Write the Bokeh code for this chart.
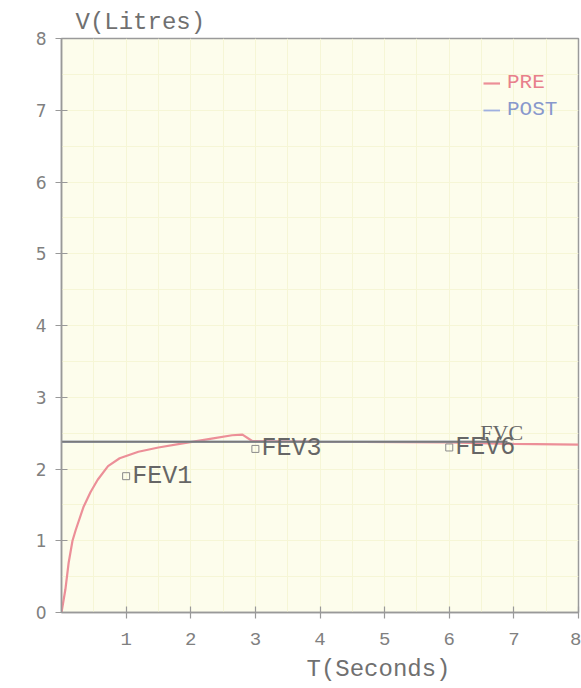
from bokeh.plotting import figure
from bokeh.models import (Legend, LegendItem, FixedTicker, ColumnDataSource,
                          Range1d, Title)
from bokeh.core.properties import value
from bokeh.embed import file_html
from bokeh.resources import INLINE
import numpy as np

# ---- data ----
pre_t = [0, 0.06, 0.11, 0.17, 0.22, 0.34, 0.45, 0.56, 0.72, 0.9, 1.19, 1.5, 1.9, 2.3, 2.64, 2.8,
         2.95, 4.0, 6.0, 7.0, 8.0]
pre_v = [0, 0.32, 0.69, 1.0, 1.15, 1.47, 1.68, 1.85, 2.04, 2.15, 2.24, 2.3, 2.36, 2.42, 2.47, 2.48,
         2.39, 2.38, 2.37, 2.35, 2.34]
post_t = [0, 6.9]
post_v = [2.38, 2.38]
ref_t = [0, 6.9]
ref_v = [2.38, 2.38]
fev_names = ["FEV1", "FEV3", "FEV6"]
fev_t = [1.0, 3.0, 6.0]
fev_v = [1.9, 2.28, 2.3]
fvc_name = ["FVC"]
fvc_t = [6.48]
fvc_v = [2.33]
x_ticks = [1, 2, 3, 4, 5, 6, 7, 8]
y_ticks = [0, 1, 2, 3, 4, 5, 6, 7, 8]

MONO = "Liberation Mono"
GRAY = "#7a7a7a"

p = figure(width=581, height=688, x_range=Range1d(0, 8), y_range=Range1d(0, 8),
           output_backend="svg", toolbar_location=None,
           min_border_left=61, min_border_right=3, min_border_top=38, min_border_bottom=75)

p.background_fill_color = "#fdfdec"
p.border_fill_color = "white"
p.outline_line_color = "#9a9a9a"
p.outline_line_width = 1.5

p.xgrid.ticker = FixedTicker(ticks=list(np.arange(0, 8.01, 0.5)))
p.ygrid.ticker = FixedTicker(ticks=list(np.arange(0, 8.01, 0.5)))
p.xgrid.grid_line_color = "#f6f6d6"
p.ygrid.grid_line_color = "#f6f6d6"

# axes
p.xaxis.ticker = FixedTicker(ticks=x_ticks)
p.yaxis.ticker = FixedTicker(ticks=y_ticks)
for ax in (p.xaxis[0], p.yaxis[0]):
    ax.axis_line_color = "#999999"
    ax.axis_line_width = 1.5
    ax.major_tick_line_color = "#999999"
    ax.major_tick_line_width = 1.2
    ax.major_tick_in = 6
    ax.major_tick_out = 6
    ax.minor_tick_line_color = None
    ax.major_label_text_color = "#808080"
p.yaxis.major_label_standoff = 9
p.yaxis.major_label_text_font = "DejaVu Sans"
p.yaxis.major_label_text_font_size = "17px"
p.xaxis.major_label_standoff = 14
p.xaxis.major_label_text_font = MONO
p.xaxis.major_label_text_font_size = "19px"

# curves
pre_src = ColumnDataSource(dict(t=pre_t, v=pre_v))
post_src = ColumnDataSource(dict(t=post_t, v=post_v))
ref_src = ColumnDataSource(dict(t=ref_t, v=ref_v))
r_pre = p.line("t", "v", source=pre_src, line_color="#ec8f98", line_width=2.2)
r_post = p.line("t", "v", source=post_src, line_color="#9fb0e0", line_width=1.8)
p.line("t", "v", source=ref_src, line_color=GRAY, line_width=1.8)

# FEV markers and labels
fev_src = ColumnDataSource(dict(t=fev_t, v=fev_v, name=fev_names))
p.scatter("t", "v", source=fev_src, marker="square", size=7, fill_color=None,
          line_color="#8a8a8a", line_width=1)
p.text("t", "v", text="name", source=fev_src, x_offset=6, text_baseline="middle",
       text_align="left", text_font=value(MONO), text_font_size="25px",
       text_color="#666666")
fvc_src = ColumnDataSource(dict(t=fvc_t, v=fvc_v, name=fvc_name))
p.text("t", "v", text="name", source=fvc_src, text_baseline="bottom", text_align="left",
       text_font=value("Liberation Serif"), text_font_size="22px", text_color="#666666")

# legends
for item_label, rend, col, yloc in (("PRE", r_pre, "#e8808c", 518), ("POST", r_post, "#8898cc", 491)):
    lg = Legend(items=[LegendItem(label=item_label, renderers=[rend])],
                location=(422, yloc), background_fill_alpha=0, border_line_color=None,
                padding=0, margin=0, glyph_width=17, glyph_height=20, label_standoff=7,
                label_text_font=MONO, label_text_font_size="21px", label_text_color=col,
                label_height=20)
    p.add_layout(lg)

# axis titles
p.title = None
p.add_layout(Title(text="V(Litres)", align="left", offset=14, standoff=5,
                   text_font=MONO, text_font_size="24px", text_font_style="normal",
                   text_color="#707070"), "above")
p.add_layout(Title(text="T(Seconds)", align="left", offset=245, standoff=12,
                   text_font=MONO, text_font_size="24px", text_font_style="normal",
                   text_color="#707070"), "below")

open("out.html", "w").write(file_html(p, INLINE))
